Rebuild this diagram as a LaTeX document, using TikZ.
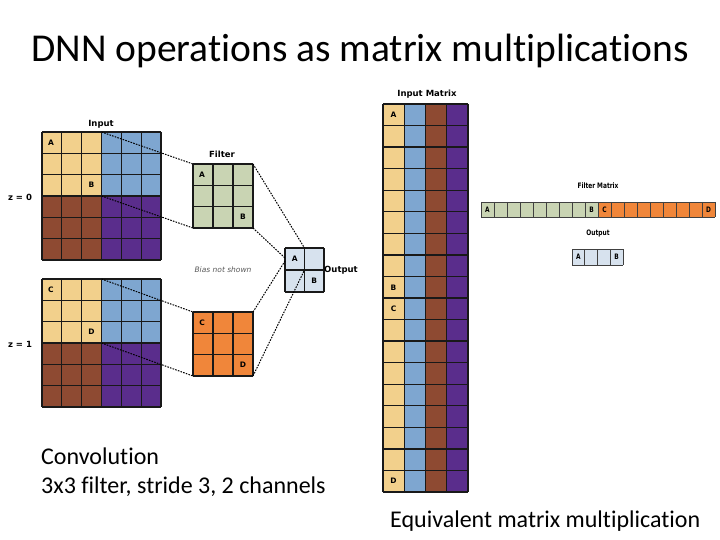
\documentclass[tikz,border=0pt]{standalone}
\usepackage{fontspec}
\setmainfont{Carlito}[RawFeature={-liga;-clig}]
\newfontfamily\dv{DejaVu Sans}
\newfontfamily\dvn[FakeStretch=0.78]{DejaVu Sans}
\definecolor{cyel}{HTML}{F2D08C}
\definecolor{cblu}{HTML}{7EA6D0}
\definecolor{cbrn}{HTML}{8E4A32}
\definecolor{cpur}{HTML}{5A2D8C}
\definecolor{cgrn}{HTML}{C9D4B3}
\definecolor{corg}{HTML}{F0863A}
\definecolor{cout}{HTML}{D7E2EE}
\tikzset{
  gl/.style={draw=black!90, line width=1.3pt},
  gls/.style={draw=black!75, line width=0.8pt},
  lbl/.style={font=\dv\bfseries\fontsize{8.5}{9}\selectfont, inner sep=0pt},
  cl/.style={font=\dv\bfseries\fontsize{7.5}{8}\selectfont, inner sep=0pt},
  sl/.style={font=\dvn\bfseries\fontsize{7.5}{8}\selectfont, inner sep=0pt},
  conn/.style={draw=black, line width=1pt, dash pattern=on 1.6pt off 1.2pt},
}
\newcommand\gridlines[7]{%
  \foreach \i in {0,...,#3} \draw[#7] ({#1+\i*#5},#2) -- ++(0,{#4*#6});
  \foreach \j in {0,...,#4} \draw[#7] (#1,{#2+\j*#6}) -- ++({#3*#5},0);
}
\newcommand\inputblock[2]{% x0 y0, cell 19.83 x 21.33
  \fill[cyel] (#1,#2) rectangle ++(59.5,64);
  \fill[cblu] ({#1+59.5},#2) rectangle ++(59.5,64);
  \fill[cbrn] (#1,{#2+64}) rectangle ++(59.5,64);
  \fill[cpur] ({#1+59.5},{#2+64}) rectangle ++(59.5,64);
  \gridlines{#1}{#2}{6}{6}{19.83}{21.33}{gl}
}
\begin{document}
\begin{tikzpicture}[x=1pt,y=-1pt]
\useasboundingbox (0,0) rectangle (720,540);
\fill[white] (0,0) rectangle (720,540);

% title
\node[anchor=base, inner sep=0pt, font=\fontsize{39.5}{44}\selectfont] (title) at (360,62) {DNN operations as matrix multiplications};

% ---------- convolution part ----------
\inputblock{42}{132}
\inputblock{42}{279}
\node[lbl] (inlbl) at (101,124) {Input};
\node[lbl] (z0) at (20,197) {z = 0};
\node[lbl] (z1) at (20,344) {z = 1};
\node[cl] (ia) at (51,142.5) {A};
\node[cl] (ib) at (91.5,185) {B};
\node[cl] (ic) at (51,289.5) {C};
\node[cl] (id) at (91.5,332) {D};

% filters
\fill[cgrn] (193,164) rectangle ++(60,64);
\gridlines{193}{164}{3}{3}{20}{21.33}{gl}
\fill[corg] (193,312) rectangle ++(60,64);
\gridlines{193}{312}{3}{3}{20}{21.33}{gl}
\node[lbl] (flbl) at (222,154) {Filter};
\node[cl] (fa) at (202,174.5) {A};
\node[cl] (fb) at (243,217) {B};
\node[cl] (fc) at (202,322.5) {C};
\node[cl] (fd) at (243,365) {D};

% output
\fill[cout] (285,248) rectangle ++(39,44);
\gridlines{285}{248}{2}{2}{19.5}{22}{gl}
\node[cl] (oa) at (294.75,259) {A};
\node[cl] (ob) at (314.25,281) {B};
\node[lbl] (olbl) at (341,270) {Output};
\node[inner sep=0pt, font=\dv\itshape\fontsize{7.5}{8}\selectfont, text=black!65] (bias) at (223,270) {Bias not shown};

% connectors
\coordinate (p1) at (101.5,132);
\coordinate (p2) at (101.5,196);
\coordinate (p3) at (101.5,279);
\coordinate (p4) at (101.5,343);
\coordinate (f1tl) at (193,164);
\coordinate (f1bl) at (193,228);
\coordinate (f1tr) at (253,164);
\coordinate (f1br) at (253,228);
\coordinate (f2tl) at (193,312);
\coordinate (f2bl) at (193,376);
\coordinate (f2tr) at (253,312);
\coordinate (f2br) at (253,376);
\coordinate (o1) at (304.5,248);
\coordinate (o2) at (285,258);
\coordinate (o3) at (285,261);
\coordinate (o4) at (304.5,270);
\draw[conn] (p1) -- (f1tl);
\draw[conn] (p2) -- (f1bl);
\draw[conn] (p3) -- (f2tl);
\draw[conn] (p4) -- (f2bl);
\draw[conn] (f1tr) -- (o1);
\draw[conn] (f1br) -- (o2);
\draw[conn] (f2tr) -- (o3);
\draw[conn] (f2br) -- (o4);

% ---------- input matrix ----------
\fill[cyel] (383,104) rectangle ++(21.25,388);
\fill[cblu] (404.25,104) rectangle ++(21.25,388);
\fill[cbrn] (425.5,104) rectangle ++(21.25,388);
\fill[cpur] (446.75,104) rectangle ++(21.25,388);
\gridlines{383}{104}{4}{18}{21.25}{21.555}{gl}
\node[lbl] (imlbl) at (427,94) {Input Matrix};
\node[cl] (ma) at (393.6,115) {A};
\node[cl] (mb) at (393.6,287.4) {B};
\node[cl] (mc) at (393.6,309) {C};
\node[cl] (md) at (393.6,481.2) {D};

% ---------- filter matrix ----------
\fill[cgrn] (481,202) rectangle ++(117,15);
\fill[corg] (598,202) rectangle ++(117,15);
\gridlines{481}{202}{18}{1}{13}{15}{gls}
\node[sl] (fmlbl) at (598,186) {Filter Matrix};
\node[sl] (fma) at (487.5,209.5) {A};
\node[sl] (fmb) at (591.5,209.5) {B};
\node[sl] (fmc) at (604.5,209.5) {C};
\node[sl] (fmd) at (708.5,209.5) {D};

% output row
\fill[cout] (572,249) rectangle ++(51,16);
\gridlines{572}{249}{4}{1}{12.75}{16}{gls}
\node[sl] (omlbl) at (598,233) {Output};
\node[sl] (oma) at (578.4,257) {A};
\node[sl] (omb) at (616.6,257) {B};

% ---------- captions ----------
\node[anchor=base west, inner sep=0pt, font=\fontsize{24}{29}\selectfont] (cap1) at (41,464) {Convolution};
\node[anchor=base west, inner sep=0pt, font=\fontsize{24}{29}\selectfont] (cap2) at (41,493) {3x3 filter, stride 3, 2 channels};
\node[anchor=base west, inner sep=0pt, font=\fontsize{24}{29}\selectfont] (cap3) at (390,527) {Equivalent matrix multiplication};
\end{tikzpicture}
\end{document}
